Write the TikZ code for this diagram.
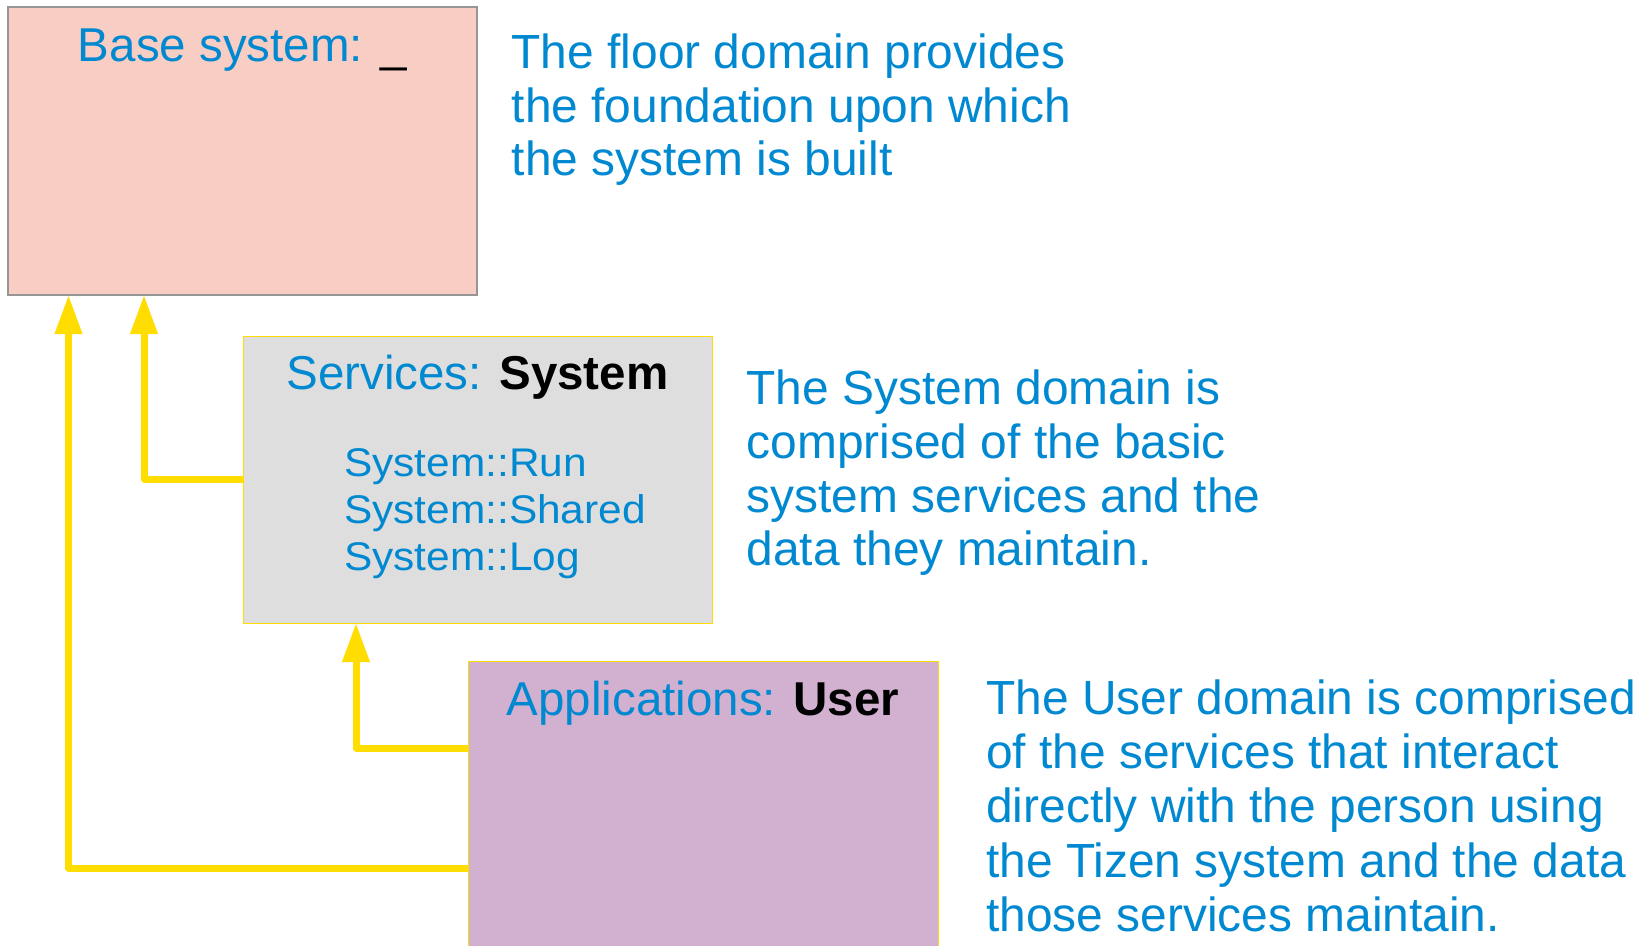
\documentclass[tikz,border=0pt]{standalone}
\usepackage{fontspec}
\setmainfont{Liberation Sans}
\newfontfamily\fontL[FakeStretch=1.06]{Liberation Sans}
\usetikzlibrary{arrows.meta}
\definecolor{txtblue}{RGB}{0,137,209}
\definecolor{basefill}{RGB}{248,205,195}
\definecolor{basedraw}{RGB}{150,150,150}
\definecolor{svcfill}{RGB}{222,222,222}
\definecolor{appfill}{RGB}{210,176,208}
\definecolor{yel}{RGB}{255,221,0}
\tikzset{
  box/.style={rectangle, inner sep=0pt, outer sep=0pt, anchor=center},
  title/.style={text=txtblue, inner sep=0pt, anchor=base, font=\fontsize{47.5}{55}\selectfont},
  desc/.style={text=txtblue, inner sep=0pt, anchor=north west, align=left, font=\fontsize{47.9}{53.7}\selectfont},
  conn/.style={draw=yel, line width=7pt, line join=round, -{Triangle[length=39pt,width=26pt]}}
}
\begin{document}
\begin{tikzpicture}[x=1pt,y=-1pt]
\clip (0,0) rectangle (1640,945);
\fill[white] (0,0) rectangle (1640,945);
\node[box, fill=basefill, draw=basedraw, line width=1.2pt, minimum width=469pt, minimum height=288pt] (base) at (242.5,151) {};
\node[box, fill=svcfill, draw=yel, line width=1pt, minimum width=469pt, minimum height=287pt] (svc) at (477.5,479.5) {};
\node[box, fill=appfill, draw=yel, line width=1pt, minimum width=470pt, minimum height=299pt] (apps) at (703,810.5) {};

\node[title] (basetitle) at (242.5,61) {Base system: \textcolor{black}{\_}};
\node[title] (svctitle) at (477.5,389) {Services: \textcolor{black}{\bfseries System}};
\node[title] (apptitle) at (703,715) {Applications: \textcolor{black}{\bfseries User}};

\node[desc, font=\fontL\fontsize{40}{46.7}\selectfont] (svclist) at (344,448.6) {System::Run\\System::Shared\\System::Log};

\node[desc] (d1) at (511.5,33.4) {The floor domain provides\\the foundation upon which\\the system is built};
\node[desc] (d2) at (746.5,369.9) {The System domain is\\comprised of the basic\\system services and the\\data they maintain.};
\node[desc, font=\fontsize{47.9}{54.2}\selectfont] (d3) at (986,679.5) {The User domain is comprised\\of the services that interact\\directly with the person using\\the Tizen system and the data\\those services maintain.};

\draw[conn] ([yshift=-207pt]apps.north west) -| ([xshift=60.5pt]base.south west);
\draw[conn] (svc.west) -| ([xshift=136pt]base.south west);
\draw[conn] ([yshift=-87pt]apps.north west) -| ([xshift=113pt]svc.south west);
\end{tikzpicture}
\end{document}
